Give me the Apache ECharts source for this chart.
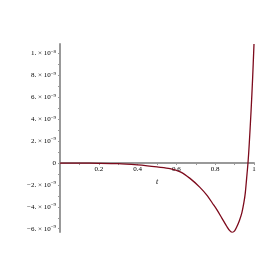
<!DOCTYPE html>
<html><head><meta charset="utf-8">
<script src="https://cdn.jsdelivr.net/npm/echarts@6/dist/echarts.min.js"></script>
<style>html,body{margin:0;padding:0;background:#fff}#c{width:277px;height:277px}</style>
</head><body><div id="c"></div>
<script>
// curve samples: t and value (in units of 1e-9)
var tValues = [0, 0.1, 0.2, 0.3, 0.4, 0.45, 0.5, 0.567, 0.62, 0.67, 0.72, 0.76, 0.785, 0.81, 0.835, 0.86, 0.875, 0.887, 0.9, 0.912, 0.925, 0.938, 0.948, 0.955, 0.962, 0.969, 0.975, 0.985, 0.993, 1.0];
var yValues = [0, -0.005, -0.02, -0.06, -0.17, -0.25, -0.35, -0.5, -0.8, -1.4, -2.2, -3.0, -3.65, -4.3, -5.05, -5.8, -6.18, -6.33, -6.2, -5.8, -5.25, -4.5, -3.6, -2.75, -1.4, 0, 1.6, 4.8, 7.8, 10.88];
var yTickValues = [-6, -4, -2, 0, 2, 4, 6, 8, 10];
var yTickMant = ['\u22126.', '\u22124.', '\u22122.', '0', '2.', '4.', '6.', '8.', '1.'];
var yTickExp = ['\u22129', '\u22129', '\u22129', '', '\u22129', '\u22129', '\u22129', '\u22129', '\u22128'];
var xTickLabels = [0.2, 0.4, 0.6, 0.8, 1];

var S = 1e-9;
var yMin = -6.3, yMax = 10.88;
var data = tValues.map(function (t, i) { return [t, yValues[i] * S]; });
var yMinor = [];
for (var k = -6; k <= 10; k++) yMinor.push(k * S);

var gridTop = 44, gridBottom = 45, H = 277;
var zeroOffset = -(H - gridTop - gridBottom) * (0 - yMin) / (yMax - yMin);

var chart = echarts.init(document.getElementById('c'));
chart.setOption({
  animation: false,
  grid: { left: 60, right: 23, top: gridTop, bottom: gridBottom },
  xAxis: {
    type: 'value', min: 0, max: 1, interval: 0.2,
    offset: zeroOffset,
    name: 't', nameLocation: 'middle', nameGap: 11,
    nameTextStyle: { fontFamily: 'Liberation Serif', fontStyle: 'italic', fontSize: 8, color: '#000' },
    axisLine: { onZero: false, lineStyle: { color: '#999', width: 2 } },
    axisTick: { show: true, length: 2, lineStyle: { color: '#999' } },
    minorTick: { show: true, splitNumber: 2, length: 2, lineStyle: { color: '#999' } },
    splitLine: { show: false },
    axisLabel: {
      margin: 3, fontFamily: 'Liberation Serif', fontSize: 7, color: '#000',
      formatter: function (v) {
        for (var i = 0; i < xTickLabels.length; i++) if (Math.abs(v - xTickLabels[i]) < 1e-6) return String(xTickLabels[i]);
        return '';
      }
    }
  },
  yAxis: {
    type: 'value', min: yMin * S, max: yMax * S,
    axisLine: { show: true, onZero: false, lineStyle: { color: '#999', width: 2 } },
    axisTick: { show: true, length: 2, customValues: yMinor, lineStyle: { color: '#999' } },
    splitLine: { show: false },
    axisLabel: {
      margin: 4, color: '#000', fontFamily: 'Liberation Serif', fontSize: 7,
      customValues: yTickValues.map(function (v) { return v * S; }),
      formatter: function (v) {
        var n = Math.round(v / S);
        var i = yTickValues.indexOf(n);
        if (i < 0) return '';
        if (yTickExp[i] === '') return '{a|' + yTickMant[i] + '}';
        return '{a|' + yTickMant[i] + ' \u00d7 10}{s|' + yTickExp[i] + '}';
      },
      rich: {
        a: { fontFamily: 'Liberation Serif', fontSize: 7, color: '#000' },
        s: { fontFamily: 'Liberation Serif', fontSize: 5, color: '#000', verticalAlign: 'top', padding: [0, 0, 4, 0] }
      }
    }
  },
  series: [{
    type: 'line', data: data, showSymbol: false, smooth: 0.3, clip: true,
    lineStyle: { color: '#7d0a1c', width: 1.3 }
  }]
});
</script></body></html>
